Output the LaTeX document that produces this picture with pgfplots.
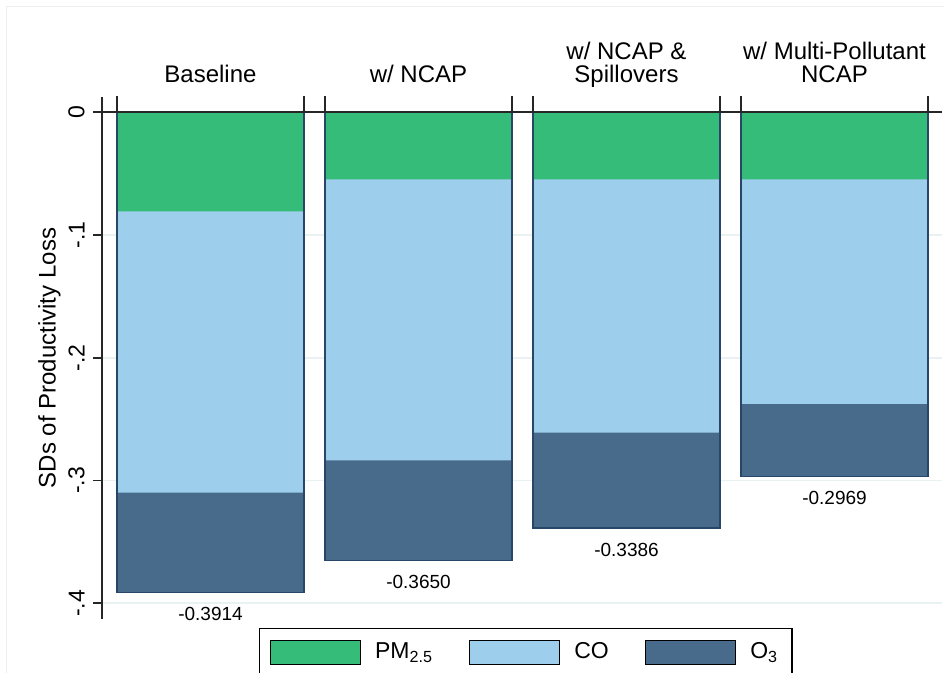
\documentclass[border=0pt]{standalone}
\usepackage{fontspec}
\setmainfont{Liberation Sans}
\usepackage{pgfplots}
\usepackage{pgfplotstable}
\pgfplotsset{compat=1.18}

\definecolor{pmgreen}{RGB}{54,188,121}
\definecolor{colight}{RGB}{157,206,236}
\definecolor{othree}{RGB}{72,107,140}
\definecolor{baredge}{RGB}{40,70,104}
\definecolor{gridc}{RGB}{233,241,242}

% Contributions of each pollutant to the productivity loss (SDs), by scenario
\pgfplotstableread{
x pm co o3 total
0 -0.0807 -0.2292 -0.0815 -0.3914
1 -0.0546 -0.2289 -0.0815 -0.3650
2 -0.0546 -0.2064 -0.0776 -0.3386
3 -0.0546 -0.1830 -0.0593 -0.2969
}\losstable

\begin{document}
\begin{tikzpicture}
\path[use as bounding box] (-51pt,-27pt) rectangle (424.5pt,309.5pt);
\draw[black!7, line width=0.5pt] (-47.5pt,-27pt) -- (-47.5pt,306pt) -- (421pt,306pt);
\begin{axis}[
  at={(0pt,0pt)}, anchor=south west,
  scale only axis, width=420pt, height=261pt,
  xmin=-0.5216, xmax=3.5168, ymin=-0.4128, ymax=0.01246,
  clip=false,
  axis x line=none, axis y line*=left,
  y axis line style={black!85, line width=0.9pt},
  ytick={-0.4,-0.3,-0.2,-0.1,0},
  yticklabels={-.4,-.3,-.2,-.1,0},
  ytick align=outside, major tick length=4.5pt,
  ytick style={black!85, line width=0.9pt},
  yticklabel style={rotate=90, anchor=south, inner sep=0pt,
    font=\fontsize{11.5}{13}\selectfont},
  yticklabel shift=4pt,
  ymajorgrids, grid style={gridc, line width=0.8pt},
  ylabel={SDs of Productivity Loss},
  ylabel style={at={(axis description cs:-0.0625,0.5)}, anchor=center,
    font=\fontsize{12}{14}\selectfont},
  legend columns=3,
  legend image code/.code={\fill[#1] (0pt,-6pt) rectangle (45pt,6pt);},
  legend style={at={(axis description cs:0.1869,-0.01724)}, anchor=north west,
    draw=black, line width=0.7pt, inner xsep=5pt, inner ysep=5pt,
    font=\fontsize{11.5}{13}\selectfont,
    /tikz/every odd column/.append style={column sep=5pt},
    /tikz/every even column/.append style={column sep=16pt}},
  legend cell align=left,
]
% stacked segments, drawn from the total upwards
\addplot[ybar, bar width=0.899, bar shift=0pt, fill=othree, draw=none, forget plot]
  table[x=x, y=total] {\losstable};
\addplot[ybar, bar width=0.899, bar shift=0pt, fill=colight, draw=none, forget plot]
  table[x=x, y expr=\thisrow{pm}+\thisrow{co}] {\losstable};
\addplot[ybar, bar width=0.899, bar shift=0pt, fill=pmgreen, draw=none, forget plot]
  table[x=x, y=pm] {\losstable};
% bar outline and total labels
\addplot[ybar, bar width=0.899, bar shift=0pt, fill=none, draw=baredge, line width=0.6pt,
  forget plot, point meta=explicit symbolic, nodes near coords,
  nodes near coords style={anchor=north, inner sep=0pt, yshift=-7.2pt,
    font=\fontsize{9.5}{11}\selectfont, text=black}]
  table[x=x, y=total, meta=total] {\losstable};
% zero line and panel stubs
\addplot[black!85, line width=0.9pt, forget plot] coordinates {(-0.5216,0) (3.5168,0)};
\addplot[ybar, bar width=0.0001, bar shift=0pt, draw=black!85, line width=0.8pt, forget plot]
  coordinates {(-0.4495,0.01246) (0.4495,0.01246) (0.5505,0.01246) (1.4495,0.01246)
               (1.5505,0.01246) (2.4495,0.01246) (2.5505,0.01246) (3.4495,0.01246)};
% panel titles
\tikzset{paneltitle/.style={anchor=south, align=center, text depth=0pt, inner sep=0pt,
  yshift=7.15pt, font=\fontsize{12}{11.5}\selectfont}}
\node[paneltitle] at (axis cs:0,0.01246) {Baseline};
\node[paneltitle] at (axis cs:1,0.01246) {w/ NCAP};
\node[paneltitle] at (axis cs:2,0.01246) {w/ NCAP \&\\Spillovers};
\node[paneltitle] at (axis cs:3,0.01246) {w/ Multi-Pollutant\\NCAP};
% legend
\addlegendimage{fill=pmgreen}
\addlegendentry{PM\textsubscript{2.5}}
\addlegendimage{fill=colight}
\addlegendentry{CO}
\addlegendimage{fill=othree}
\addlegendentry{O\textsubscript{3}}
\end{axis}
\end{tikzpicture}
\end{document}
